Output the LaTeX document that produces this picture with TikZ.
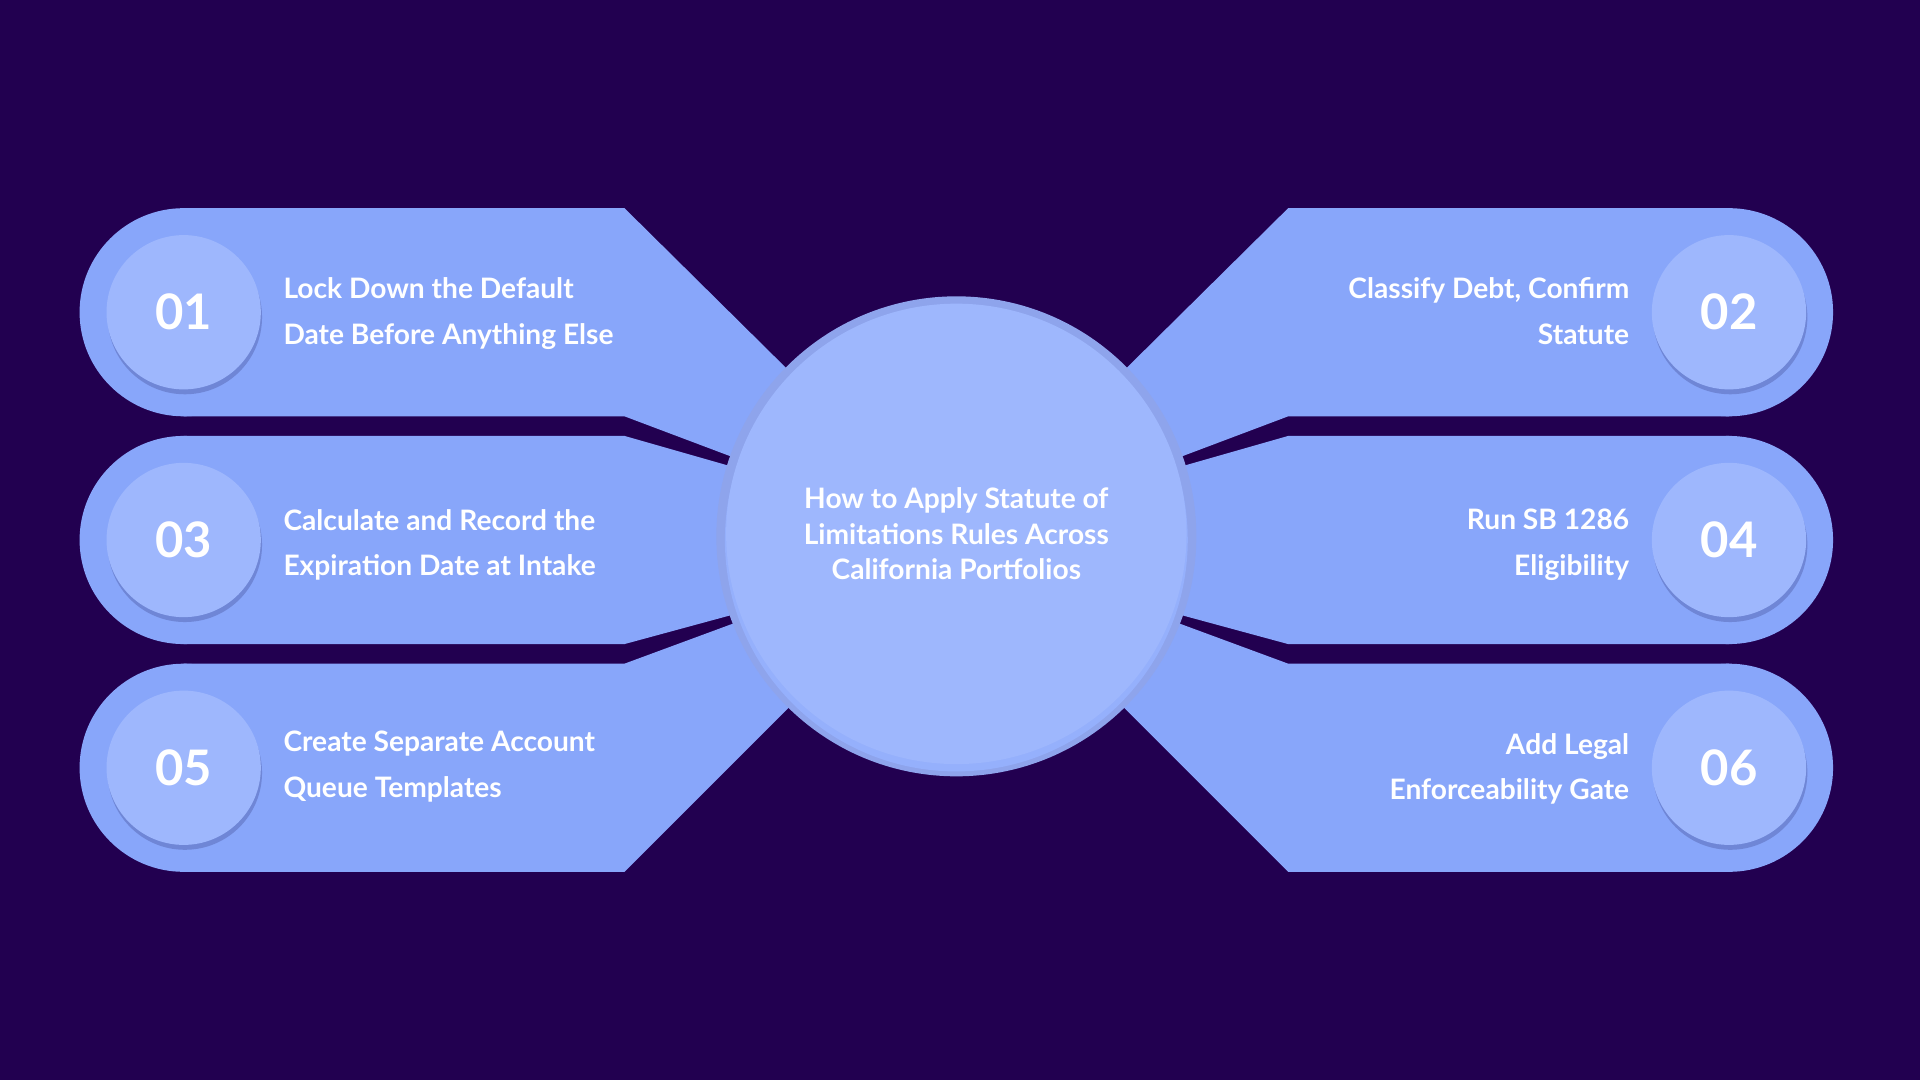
\documentclass[tikz,border=0pt]{standalone}
\usepackage{fontspec}
\setmainfont{Lato}
\definecolor{bg}{HTML}{220050}
\definecolor{arm}{HTML}{88A6FA}
\definecolor{num}{HTML}{9EB7FD}
\definecolor{ring}{HTML}{8EA4EC}
\definecolor{shad}{HTML}{6F86D6}
\begin{document}
\begin{tikzpicture}[x=1pt,y=-1pt,
  armf/.style={fill=arm},
  numc/.style={circle,fill=num,minimum size=126pt,inner sep=0pt,text=white,font=\fontsize{40}{40}\selectfont\bfseries},
  lt/.style={text=white,font=\fontsize{23}{37}\selectfont\bfseries,align=left,anchor=west},
  rt/.style={text=white,font=\fontsize{23}{37}\selectfont\bfseries,align=right,anchor=east}]
\fill[bg] (0,0) rectangle (1568,882);
\useasboundingbox (0,0) rectangle (1568,882);
% left arms
\fill[armf] (150,255) circle (85);
\fill[armf] (150,170) -- (510,170) -- (690,348) -- (640,389) -- (510,340) -- (150,340) -- cycle;
\fill[armf] (150,441) circle (85);
\fill[armf] (150,356) -- (510,356) -- (650,396) -- (650,488) -- (510,526) -- (150,526) -- cycle;
\fill[armf] (150,627) circle (85);
\fill[armf] (150,542) -- (510,542) -- (640,494) -- (690,532) -- (510,712) -- (150,712) -- cycle;
% right arms (mirrored about 781)
\fill[armf] (1412,255) circle (85);
\fill[armf] (1412,170) -- (1052,170) -- (872,348) -- (922,389) -- (1052,340) -- (1412,340) -- cycle;
\fill[armf] (1412,441) circle (85);
\fill[armf] (1412,356) -- (1052,356) -- (912,396) -- (912,488) -- (1052,526) -- (1412,526) -- cycle;
\fill[armf] (1412,627) circle (85);
\fill[armf] (1412,542) -- (1052,542) -- (922,494) -- (872,532) -- (1052,712) -- (1412,712) -- cycle;
% center
\fill[ring] (781,438) circle (196);
\fill[num!60!arm] (781,441) circle (189);
\node[circle,fill=num,minimum size=376pt,inner sep=0pt,text=white,align=center,
  font=\fontsize{23}{29}\selectfont\bfseries] (c) at (781,436)
  {How to Apply Statute of\\Limitations Rules Across\\California Portfolios};
% number circles
\foreach \n/\x/\y in {a/150/255,b/1412/255,c3/150/441,d/1412/441,e/150/627,f/1412/627}{
  \fill[shad] (\x+1,\y+4) circle (63);
}
\node[numc] (n1) at (150,255) {01};
\node[numc] (n2) at (1412,255) {02};
\node[numc] (n3) at (150,441) {03};
\node[numc] (n4) at (1412,441) {04};
\node[numc] (n5) at (150,627) {05};
\node[numc] (n6) at (1412,627) {06};
\node[lt] (t1) at (228,256) {Lock Down the Default\\Date Before Anything Else};
\node[lt] (t3) at (228,445) {Calculate and Record the\\Expiration Date at Intake};
\node[lt] (t5) at (228,626) {Create Separate Account\\Queue Templates};
\node[rt] (t2) at (1334,254) {Classify Debt, Confirm\\Statute};
\node[rt] (t4) at (1334,445) {Run SB 1286\\Eligibility};
\node[rt] (t6) at (1334,628) {Add Legal\\Enforceability Gate};
\end{tikzpicture}
\end{document}
